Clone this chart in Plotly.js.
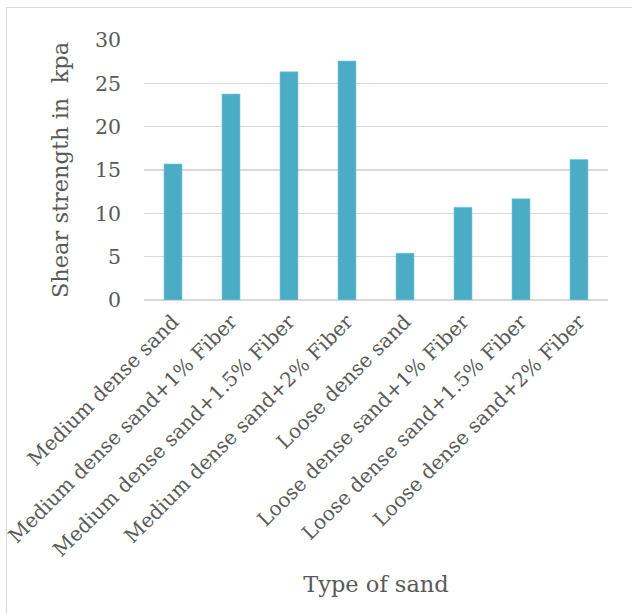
<!DOCTYPE html>
<html>
<head>
<meta charset="utf-8">
<script src="https://cdn.plot.ly/plotly-3.0.1.min.js"></script>
<style>
  html, body { margin: 0; padding: 0; background: #ffffff; }
  #wrap { position: relative; width: 632px; height: 614px; overflow: hidden; }
  #chart { position: absolute; left: 0; top: 0; width: 632px; height: 614px; }
  #frame { position: absolute; left: 6px; top: 7px; width: 640px; height: 620px; border: 1px solid #d9d9d9; pointer-events: none; }
</style>
</head>
<body>
<div id="wrap">
  <div id="chart"></div>
  <div id="frame"></div>
</div>
<script>
const categories = [
  "Medium dense sand",
  "Medium dense sand+1% Fiber",
  "Medium dense sand+1.5% Fiber",
  "Medium dense sand+2% Fiber",
  "Loose dense sand",
  "Loose dense sand+1% Fiber",
  "Loose dense sand+1.5% Fiber",
  "Loose dense sand+2% Fiber"
];
const shearStrength = [15.7, 23.76, 26.34, 27.58, 5.4, 10.69, 11.68, 16.21];
const yTickValues = [0, 5, 10, 15, 20, 25, 30];
const xTitle = "Type of sand";
const yTitle = "Shear strength in  kpa";

const fontFamily = "DejaVu Serif, serif";
const textColor = "#595959";

const trace = {
  type: "bar",
  x: categories,
  y: shearStrength,
  marker: { color: "#4bacc6", line: { color: "#7fc6d8", width: 0.6 } },
  hoverinfo: "x+y"
};

const layout = {
  width: 632,
  height: 614,
  margin: { l: 144, r: 24, t: 40, b: 314, pad: 0 },
  paper_bgcolor: "#ffffff",
  plot_bgcolor: "#ffffff",
  bargap: 0.69,
  showlegend: false,
  font: { family: fontFamily, color: textColor, size: 20 },
  xaxis: {
    type: "category",
    tickangle: -45,
    tickfont: { family: fontFamily, size: 20, color: textColor },
    showgrid: false,
    showline: false,
    zeroline: false,
    ticks: "",
    ticklabelstandoff: 5,
    automargin: false,
    title: { text: xTitle, font: { family: fontFamily, size: 22.5, color: textColor }, standoff: 15 }
  },
  yaxis: {
    range: [0, 30],
    tickvals: yTickValues,
    tickfont: { family: fontFamily, size: 20.5, color: textColor },
    showgrid: true,
    gridcolor: "#d9d9d9",
    gridwidth: 1.3,
    zeroline: true,
    zerolinecolor: "#d9d9d9",
    zerolinewidth: 1.3,
    showline: false,
    ticks: "",
    ticklabelstandoff: 22,
    automargin: false,
    title: { text: yTitle, font: { family: fontFamily, size: 22.5, color: textColor }, standoff: 20 }
  }
};

Plotly.newPlot("chart", [trace], layout, { displayModeBar: false, staticPlot: true });
</script>
</body>
</html>
